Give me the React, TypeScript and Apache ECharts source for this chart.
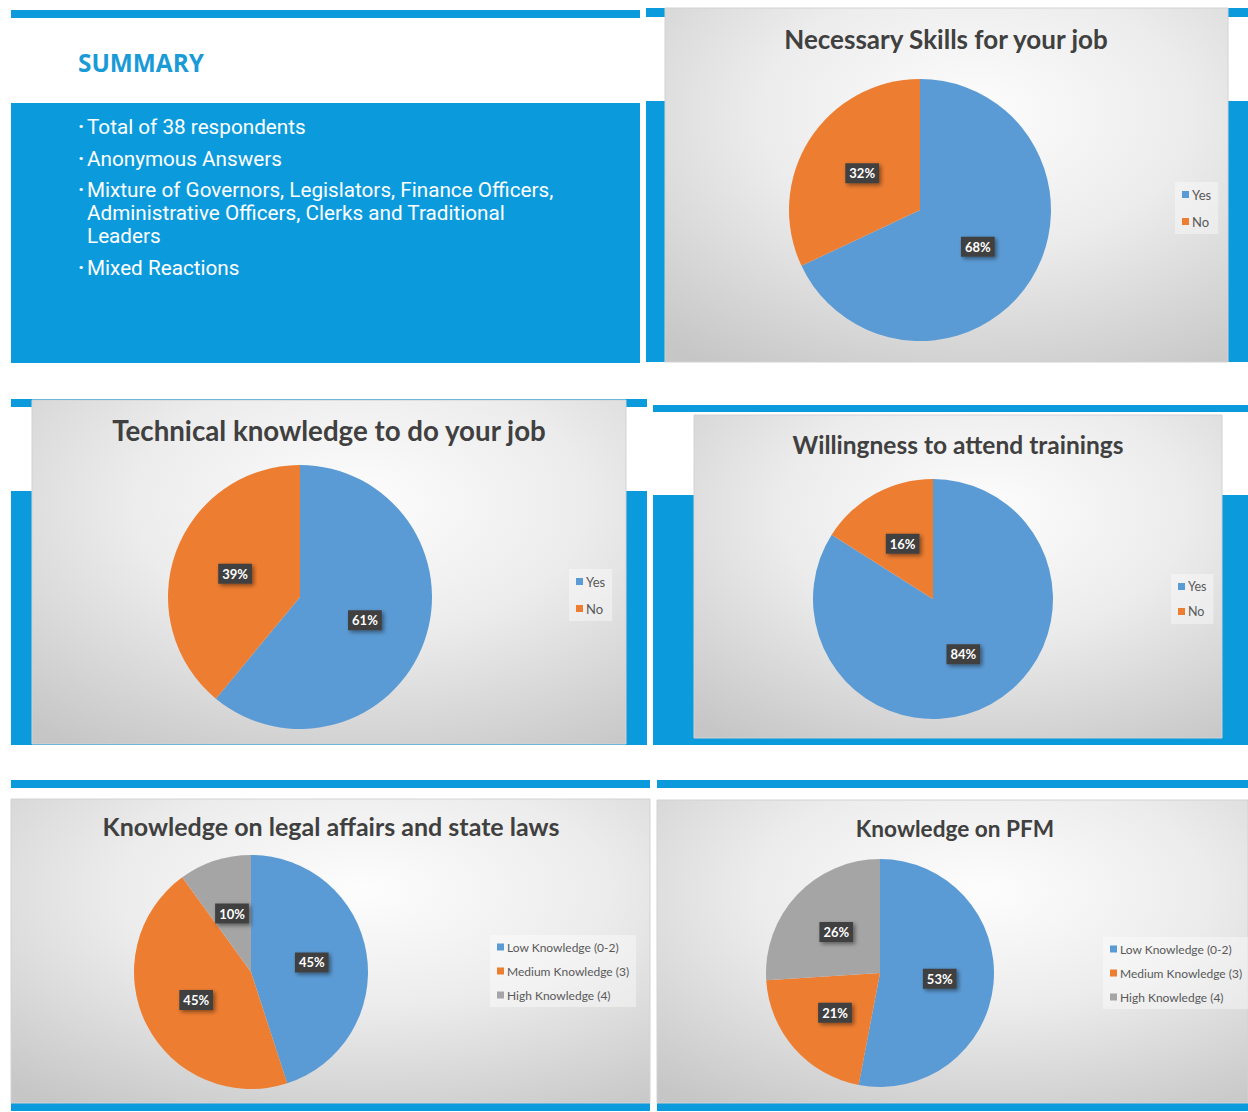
import React, { useEffect, useRef } from "react";
import * as echarts from "echarts";

// ---------- DATA ----------
const yesNoCats = ["Yes", "No"];
const knowledgeCats = ["Low Knowledge (0-2)", "Medium Knowledge (3)", "High Knowledge (4)"];
const skillsValues = [68, 32];
const technicalValues = [61, 39];
const willingnessValues = [84, 16];
const legalValues = [45, 45, 10];
const pfmValues = [53, 21, 26];
const chartTitles = [
  "Necessary Skills for your job",
  "Technical knowledge to do your job",
  "Willingness to attend trainings",
  "Knowledge on legal affairs and state laws",
  "Knowledge on PFM",
];
const summaryHeading = "SUMMARY";
const summaryBullets = [
  ["Total of 38 respondents"],
  ["Anonymous Answers"],
  ["Mixture of Governors, Legislators, Finance Officers,", "Administrative Officers, Clerks and Traditional", "Leaders"],
  ["Mixed Reactions"],
];

// ---------- STYLE / LAYOUT ----------
const SLIDE_BLUE = "#0b9bdd";
const PIE_COLORS = ["#5b9bd5", "#ed7d31", "#a5a5a5"];
const TITLE_FONT = "Lato, 'Open Sans', sans-serif";

const pies = [
  { cats: yesNoCats, values: skillsValues, center: [920, 210], r: 131, title: [946, 39], tw: 326, legend: [1175, 182], gap: 14, fs: 13 },
  { cats: yesNoCats, values: technicalValues, center: [300, 597], r: 132, title: [329, 430], tw: 435, legend: [569, 569], gap: 14, fs: 13 },
  { cats: yesNoCats, values: willingnessValues, center: [933, 599], r: 120, title: [958, 444], tw: 331, legend: [1171, 574], gap: 12, fs: 12.5 },
  { cats: knowledgeCats, values: legalValues, center: [251, 972], r: 117, title: [331, 826], tw: 456, legend: [490, 935], gap: 12, fs: 12 },
  { cats: knowledgeCats, values: pfmValues, center: [880, 973], r: 114, title: [955, 828], tw: 198, legend: [1103, 937], gap: 12, fs: 12 },
];

const panels = [
  [665, 8, 563, 354],
  [32, 400, 594, 344],
  [694, 415, 528, 323],
  [11, 799, 639, 304],
  [657, 800, 591, 303],
];

const blueRects = [
  [11, 10, 629, 8], [11, 103, 629, 260],
  [646, 8, 602, 9], [646, 101, 602, 261],
  [11, 399, 636, 8], [11, 491, 636, 254],
  [653, 405, 595, 7], [653, 495, 595, 250],
  [11, 780, 639, 8], [11, 1103, 639, 8],
  [657, 780, 591, 8], [657, 1103, 591, 8],
];

function fitSize(text: string, weight: string, family: string, width: number, fallback: number) {
  try {
    const c = document.createElement("canvas").getContext("2d");
    if (!c) return fallback;
    c.font = `${weight} 100px ${family}`;
    const w = c.measureText(text).width;
    if (!w) return fallback;
    return Math.round((width / w) * 100 * 10) / 10;
  } catch (e) {
    return fallback;
  }
}

export default function App() {
  const ref = useRef<HTMLDivElement>(null);

  useEffect(() => {
    if (!ref.current) return;
    const chart = echarts.init(ref.current, null, { renderer: "svg", width: 1248, height: 1112 });

    const graphics: any[] = [];
    blueRects.forEach(([x, y, w, h]) =>
      graphics.push({ type: "rect", silent: true, z: 0, shape: { x, y, width: w, height: h }, style: { fill: SLIDE_BLUE } })
    );
    panels.forEach(([x, y, w, h]) =>
      graphics.push({
        type: "rect",
        silent: true,
        z: 1,
        shape: { x, y, width: w, height: h },
        style: {
          fill: new echarts.graphic.RadialGradient(0.55, 0.3, 0.85, [
            { offset: 0, color: "#fdfdfd" },
            { offset: 0.45, color: "#ececec" },
            { offset: 1, color: "#c6c6c6" },
          ]),
          stroke: "#d2d2d2",
          lineWidth: 1,
        },
      })
    );

    // Summary heading & bullets
    graphics.push({
      type: "text",
      silent: true,
      z: 2,
      x: 78,
      y: 62,
      style: {
        text: summaryHeading,
        fill: "#1a9ad6",
        font: `bold ${fitSize(summaryHeading, "bold", "'Open Sans'", 126, 23)}px 'Open Sans', sans-serif`,
        textAlign: "left",
        textVerticalAlign: "middle",
      },
    });
    const bodySize = fitSize(summaryBullets[0][0], "normal", "Roboto", 219, 20);
    const bulletTops = [127, 159, 190, 268];
    summaryBullets.forEach((lines, i) => {
      graphics.push({
        type: "text",
        silent: true,
        z: 2,
        x: 78,
        y: bulletTops[i],
        style: { text: "·", fill: "#ffffff", font: `bold ${bodySize}px Roboto, sans-serif`, textVerticalAlign: "middle" },
      });
      lines.forEach((line, j) =>
        graphics.push({
          type: "text",
          silent: true,
          z: 2,
          x: 87,
          y: bulletTops[i] + j * 23,
          style: { text: line, fill: "#ffffff", font: `${bodySize}px Roboto, sans-serif`, textVerticalAlign: "middle" },
        })
      );
    });

    // Chart titles
    pies.forEach((p, i) => {
      const fs = fitSize(chartTitles[i], "bold", "Lato", p.tw, 24);
      graphics.push({
        type: "text",
        silent: true,
        z: 3,
        x: p.title[0],
        y: p.title[1],
        style: {
          text: chartTitles[i],
          fill: "#404040",
          font: `bold ${fs}px ${TITLE_FONT}`,
          textAlign: "center",
          textVerticalAlign: "middle",
        },
      });
    });

    const series = pies.map((p, i) => ({
      type: "pie",
      name: chartTitles[i],
      center: p.center,
      radius: p.r,
      startAngle: 90,
      clockwise: true,
      silent: true,
      itemStyle: { borderWidth: 0 },
      label: {
        show: true,
        position: "inside",
        formatter: "{c}%",
        color: "#ffffff",
        fontFamily: TITLE_FONT,
        fontWeight: "bold",
        fontSize: 13,
        backgroundColor: "#404040",
        padding: [4, 4, 3, 4],
        shadowColor: "rgba(0,0,0,0.45)",
        shadowBlur: 4,
        shadowOffsetX: 2,
        shadowOffsetY: 2,
      },
      labelLine: { show: false },
      data: p.cats.map((c, k) => ({ name: c, value: p.values[k], itemStyle: { color: PIE_COLORS[k] } })),
    }));

    const legends = pies.map((p) => ({
      orient: "vertical",
      left: p.legend[0],
      top: p.legend[1],
      data: p.cats,
      icon: "rect",
      itemWidth: 7,
      itemHeight: 7,
      itemGap: p.gap,
      padding: [6, 7, 6, 7],
      backgroundColor: "rgba(255,255,255,0.4)",
      selectedMode: false,
      textStyle: { color: "#595959", fontSize: p.fs, fontFamily: TITLE_FONT, padding: [0, 0, 0, -2] },
    }));

    chart.setOption({
      animation: false,
      color: PIE_COLORS,
      backgroundColor: "#ffffff",
      graphic: { elements: graphics },
      legend: legends,
      series,
    });

    return () => chart.dispose();
  }, []);

  return (
    <div
      ref={ref}
      style={{ position: "absolute", left: 0, top: 0, width: 1248, height: 1112, background: "#ffffff" }}
    />
  );
}
